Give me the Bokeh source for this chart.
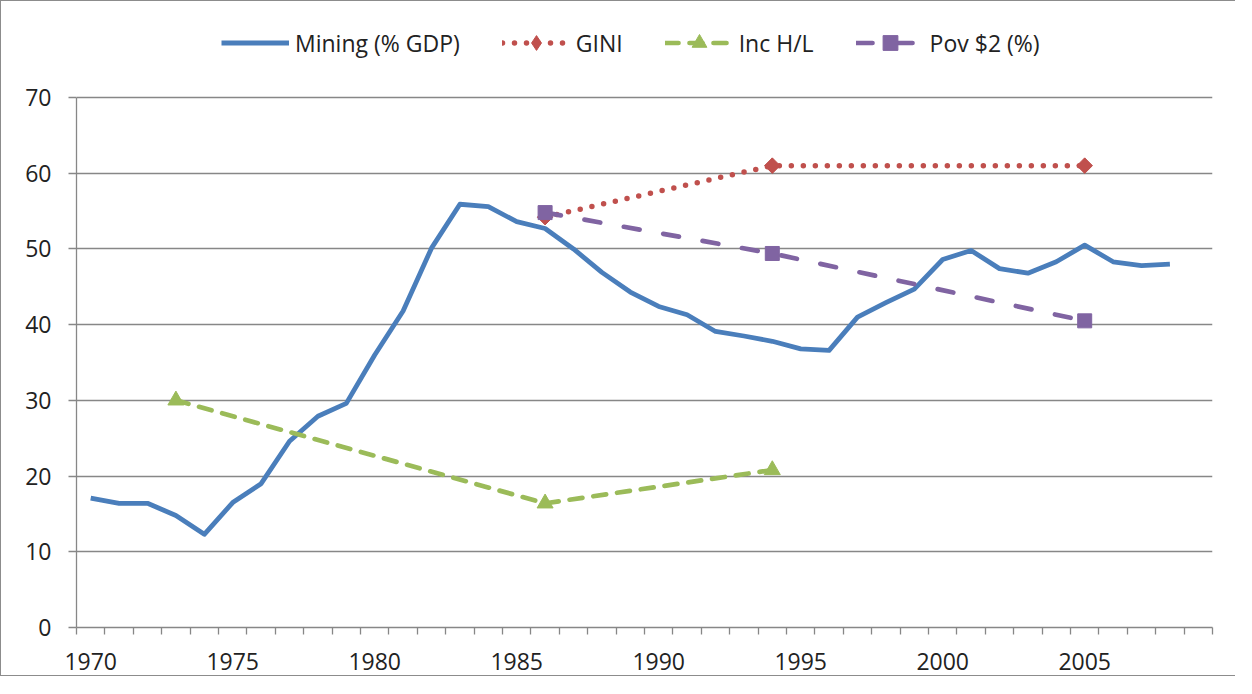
import math
from bokeh.plotting import figure
from bokeh.models import Range1d, FixedTicker, Legend, LegendItem
from bokeh.embed import file_html
from bokeh.resources import INLINE

# ---- data ----
years = list(range(1970, 2009))
mining = [17.1, 16.4, 16.4, 14.8, 12.3, 16.5, 19.0, 24.6, 27.9, 29.6,
          36.0, 41.8, 50.1, 55.9, 55.6, 53.6, 52.7, 50.0, 46.9, 44.3,
          42.4, 41.3, 39.1, 38.5, 37.8, 36.8, 36.6, 41.0, 42.9, 44.7,
          48.6, 49.8, 47.4, 46.8, 48.3, 50.5, 48.3, 47.8, 48.0]
gini_years = [1986, 1994, 2005]
gini = [54.2, 61.0, 61.0]
inc_years = [1973, 1986, 1994]
inc_hl = [30.0, 16.4, 20.8]
pov_years = [1986, 1994, 2005]
pov = [54.8, 49.4, 40.5]
x_label_years = [1970, 1975, 1980, 1985, 1990, 1995, 2000, 2005]
y_ticks = [0, 10, 20, 30, 40, 50, 60, 70]
series_names = ["Mining (% GDP)", "GINI", "Inc H/L", "Pov $2 (%)"]

BLUE = "#4A7EBB"
RED = "#C0504D"
GREEN = "#9BBB59"
PURPLE = "#8064A2"
GRAY = "#878787"
TXT = "#222222"
FONT = "Open Sans"

# layout (pixels): the frame spans the whole top area so that the legend
# sits inside it; the axis area itself covers 0..70 in its lower 530 px.
W, H = 1235, 676
LEFT, RIGHT, BOTTOM = 75, 24, 50
FRAME_H = H - BOTTOM            # 626
AXIS_H = 530                    # pixels used by 0..70
y_max = y_ticks[-1]
y_top = y_max * FRAME_H / AXIS_H

p = figure(width=W, height=H, output_backend="svg", toolbar_location=None,
           tools="", x_range=Range1d(years[0] - 0.5, 2009.5),
           y_range=Range1d(0, y_top),
           min_border_left=LEFT, min_border_right=RIGHT, min_border_top=0,
           min_border_bottom=BOTTOM)
p.styles = {"border-left": "1px solid #8c8c8c", "border-top": "1px solid #8c8c8c",
            "border-bottom": "1px solid #8c8c8c"}
p.outline_line_color = None
p.background_fill_color = "white"
p.border_fill_color = "white"

p.xgrid.visible = False
p.ygrid.grid_line_color = GRAY
p.ygrid.grid_line_width = 1.3

# x axis
minor = [years[0] - 0.5 + k for k in range(41)]
p.xaxis.ticker = FixedTicker(ticks=x_label_years, minor_ticks=minor)
p.xaxis.major_tick_line_color = None
p.xaxis.major_tick_out = 7
p.xaxis.major_tick_in = 0
p.xaxis.minor_tick_line_color = GRAY
p.xaxis.minor_tick_line_width = 1.3
p.xaxis.minor_tick_out = 7
p.xaxis.minor_tick_in = 0
p.xaxis.axis_line_color = GRAY
p.xaxis.axis_line_width = 1.3
p.xaxis.major_label_text_font = FONT
p.xaxis.major_label_text_font_size = "23px"
p.xaxis.major_label_text_color = TXT
p.xaxis.major_label_standoff = 18

# y axis
p.yaxis.ticker = FixedTicker(ticks=y_ticks)
p.yaxis.bounds = (0, y_max)
p.yaxis.minor_tick_line_color = None
p.yaxis.major_tick_line_color = GRAY
p.yaxis.major_tick_line_width = 1.3
p.yaxis.major_tick_out = 8
p.yaxis.major_tick_in = 0
p.yaxis.axis_line_color = GRAY
p.yaxis.axis_line_width = 1.3
p.yaxis.major_label_text_font = FONT
p.yaxis.major_label_text_font_size = "23px"
p.yaxis.major_label_text_color = TXT
p.yaxis.major_label_standoff = 17

# series
r_min = p.line(years, mining, line_color=BLUE, line_width=4.8, line_join="round")

r_gini_l = p.line(gini_years, gini, line_color=RED, line_width=5.5, line_dash="0 12",
                  line_cap="round")
# diamond used for the legend swatch (legend swatches ignore angle); it is
# hidden under the rotated-square markers drawn on top of it
r_gini_key = p.scatter(gini_years, gini, marker="diamond", size=14,
                       fill_color=RED, line_color=RED)
r_gini_m = p.scatter(gini_years, gini, marker="square", angle=math.pi / 4, size=11,
                     fill_color=RED, line_color=RED)

r_inc_l = p.line(inc_years, inc_hl, line_color=GREEN, line_width=4.7, line_dash="13 11",
                 line_cap="round")
r_inc_m = p.scatter(inc_years, inc_hl, marker="triangle", size=16,
                    fill_color=GREEN, line_color=GREEN)

r_pov_l = p.line(pov_years, pov, line_color=PURPLE, line_width=4.7, line_dash="16 24",
                 line_cap="round")
r_pov_m = p.scatter(pov_years, pov, marker="square", size=14,
                    fill_color=PURPLE, line_color=PURPLE)

legend = Legend(items=[
    LegendItem(label=series_names[0], renderers=[r_min]),
    LegendItem(label=series_names[1], renderers=[r_gini_l, r_gini_key]),
    LegendItem(label=series_names[2], renderers=[r_inc_l, r_inc_m]),
    LegendItem(label=series_names[3], renderers=[r_pov_l, r_pov_m]),
], orientation="horizontal", location=(145, 566))
legend.label_text_font = FONT
legend.label_text_font_size = "23px"
legend.label_text_color = TXT
legend.glyph_width = 68
legend.glyph_height = 37
legend.label_standoff = 6
legend.spacing = 42
legend.padding = 0
legend.margin = 0
legend.border_line_color = None
legend.background_fill_alpha = 0
p.add_layout(legend, "center")

open("out.html", "w").write(file_html(p, INLINE))
